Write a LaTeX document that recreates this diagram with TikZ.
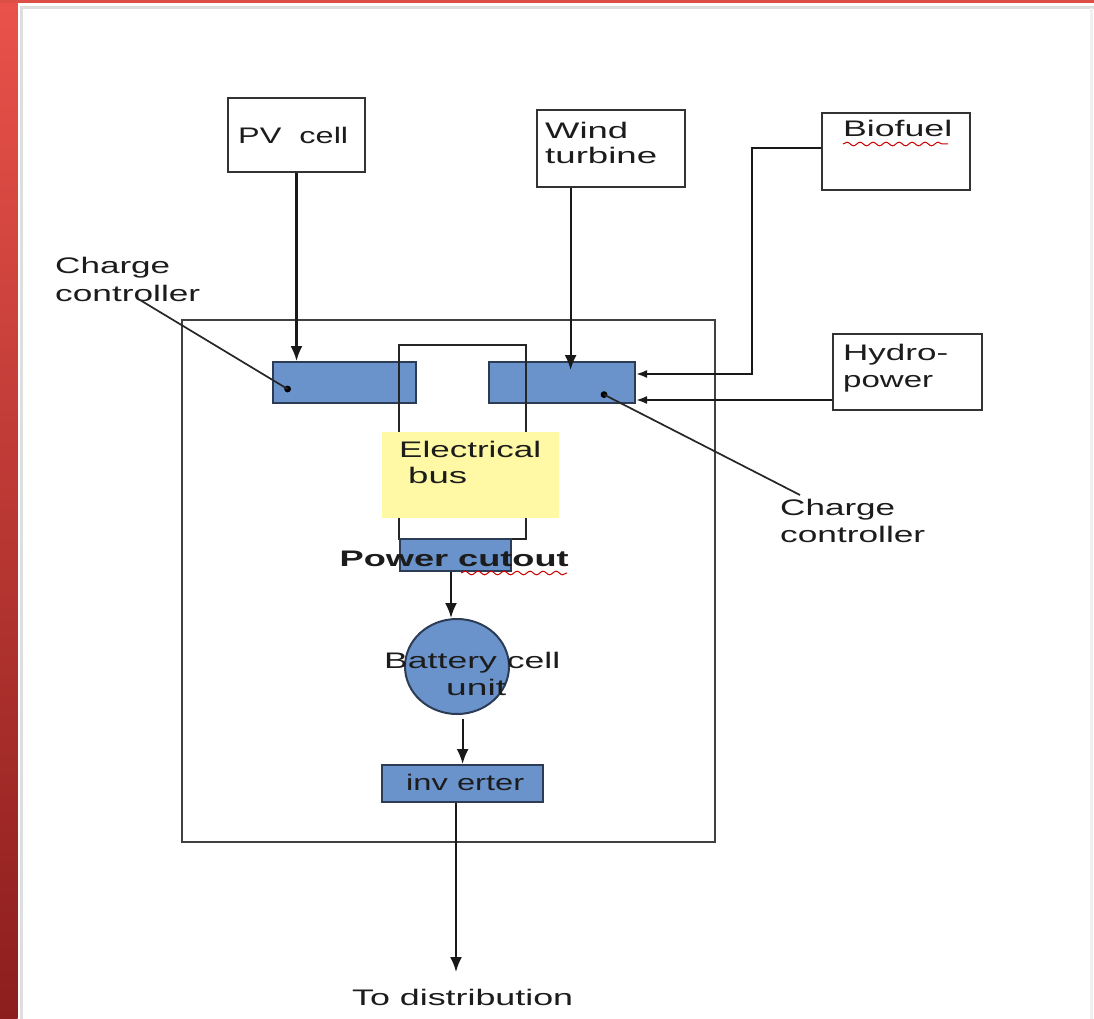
\documentclass[tikz,border=0pt]{standalone}
\usepackage{fontspec}
\setmainfont{Liberation Sans}
\usepackage{graphicx}
\usetikzlibrary{arrows.meta,decorations.pathmorphing,shapes.geometric}
\definecolor{bluefill}{HTML}{6A93CC}
\definecolor{blueedge}{HTML}{2C3C55}
\definecolor{yellowfill}{HTML}{FFF9A6}
\definecolor{txt}{HTML}{1C1C1C}
\definecolor{redtop}{HTML}{E9524A}
\definecolor{redbot}{HTML}{8C1E1D}
\newcommand\fitw[2]{\resizebox{#1pt}{\height}{#2}}
\tikzset{
  whitebox/.style={draw=black!80, line width=2.4pt, fill=white, inner sep=0, rectangle},
  bluebox/.style={draw=blueedge, line width=2pt, fill=bluefill, inner sep=0, rectangle},
  lbl/.style={anchor=base west, inner sep=0, text=txt, font=\fontsize{22.5}{26}\selectfont},
  conn/.style={draw=black!90, line width=2.1pt},
  arr/.style={conn, -{Latex[length=15pt,width=12pt]}},
  sarr/.style={conn, -{Latex[length=11pt,width=8pt]}},
  pointer/.style={draw=black!85, line width=1.7pt},
  wavy/.style={draw=red!80!black, line width=1pt, decorate, decoration={snake, amplitude=1.8pt, segment length=13pt}}
}
\begin{document}
\begin{tikzpicture}[x=1pt,y=-1pt]
\useasboundingbox (0,0) rectangle (1094,1019);
% slide background
\fill[white] (0,0) rectangle (1094,1019);
\shade[top color=redtop, bottom color=redbot] (0,0) rectangle (17.5,1019);
\fill[redtop!95!black] (0,0) rectangle (1094,3.5);
\draw[black!13, line width=3pt] (21,1019) -- (21,8) -- (1094,8);
\draw[black!6, line width=3pt] (1091,8) -- (1091,1019);

% outer enclosure
\node[draw=black!75, line width=2.4pt, minimum width=533pt, minimum height=522pt, inner sep=0] (outer) at (448.5,581) {};

% source boxes
\node[whitebox, minimum width=137pt, minimum height=74pt] (pv) at (296.5,135) {};
\node[whitebox, minimum width=148pt, minimum height=77pt] (wind) at (611,148.5) {};
\node[whitebox, minimum width=148pt, minimum height=77pt] (bio) at (896,151.5) {};
\node[whitebox, minimum width=149pt, minimum height=76pt] (hydro) at (907.5,372) {};

% charge controllers
\node[bluebox, minimum width=143pt, minimum height=41pt] (ccl) at (344.5,382.5) {};
\node[bluebox, minimum width=146pt, minimum height=41pt] (ccr) at (562,382.5) {};

% electrical bus loop
\node[draw=black!85, line width=2.2pt, minimum width=127pt, minimum height=194pt, inner sep=0] (bus) at (462.5,442) {};
\node[fill=yellowfill, minimum width=177pt, minimum height=86pt, inner sep=0] (yel) at (470.5,475) {};

% power cutout, battery, inverter
\node[bluebox, minimum width=111pt, minimum height=32pt] (cut) at (455.5,555) {};
\node[ellipse, draw=blueedge, line width=2pt, fill=bluefill, minimum width=104pt, minimum height=95pt, inner sep=0] (bat) at (457,666.5) {};
\node[bluebox, minimum width=161pt, minimum height=37pt] (inv) at (462.5,783.5) {};

% texts
\node[lbl] (tpv) at (238,143) {\fitw{110}{PV~ cell}};
\node[lbl] (tw1) at (545,139) {\fitw{83}{Wind}};
\node[lbl] (tw2) at (545,164) {\fitw{112}{turbine}};
\node[lbl] (tbio) at (843,137) {\fitw{109}{Biofuel}};
\node[lbl] (th1) at (843,360) {\fitw{105}{Hydro-}};
\node[lbl] (th2) at (843,387) {\fitw{90}{power}};
\node[lbl] (tcl1) at (55,273) {\fitw{115}{Charge}};
\node[lbl] (tcl2) at (55,301) {\fitw{145}{controller}};
\node[lbl] (tcr1) at (780,515) {\fitw{115}{Charge}};
\node[lbl] (tcr2) at (780,542) {\fitw{145}{controller}};
\node[lbl] (te1) at (399,457) {\fitw{142}{Electrical}};
\node[lbl] (te2) at (408,483) {\fitw{59}{bus}};
\node[lbl] (tcut) at (339.5,566) {\fitw{229}{\textbf{Power cutout}}};
\node[lbl] (tb1) at (384,668) {\fitw{176}{Battery cell}};
\node[lbl] (tb2) at (446,695) {\fitw{60}{unit}};
\node[lbl] (tinv) at (406,790) {\fitw{118}{inv erter}};
\node[lbl] (tdist) at (352,1005) {\fitw{221}{To distribution}};

% red spelling underlines
\draw[wavy] (843,144) -- (948,144);
\draw[wavy] (461,573) -- (567,573);

% connectors
\draw[arr] (pv.south) -- (pv.south |- ccl.north);
\coordinate (wx) at (570.6,0);
\draw[arr, shorten >=-9pt] (wind.south -| wx) -- (ccr.north -| wx);
\coordinate (cb) at (752,374);
\draw[sarr] ([yshift=3.5pt]bio.west) -| (cb) -- (cb -| ccr.east);
\draw[sarr] ([yshift=-28pt]hydro.west) coordinate (h1) -- (h1 -| ccr.east);
\coordinate (cx) at (451,0);
\draw[arr] (cut.south -| cx) -- (bat.north -| cx);
\coordinate (bx) at (462.6,718.6);
\draw[arr] (bx) -- (bx |- inv.north);
\coordinate (dx) at (456,0);
\coordinate (dend) at (456,972);
\draw[arr] (inv.south -| dx) -- (dend);

% pointer lines to charge controllers
\fill[black] (287.6,389) circle (3.4pt) coordinate (dl);
\fill[black] (604,394.6) circle (3.4pt) coordinate (dr);
\coordinate (pl) at (140,300);
\coordinate (pr) at (800,495);
\draw[pointer] (pl) -- (dl);
\draw[pointer] (dr) -- (pr);
\end{tikzpicture}
\end{document}
